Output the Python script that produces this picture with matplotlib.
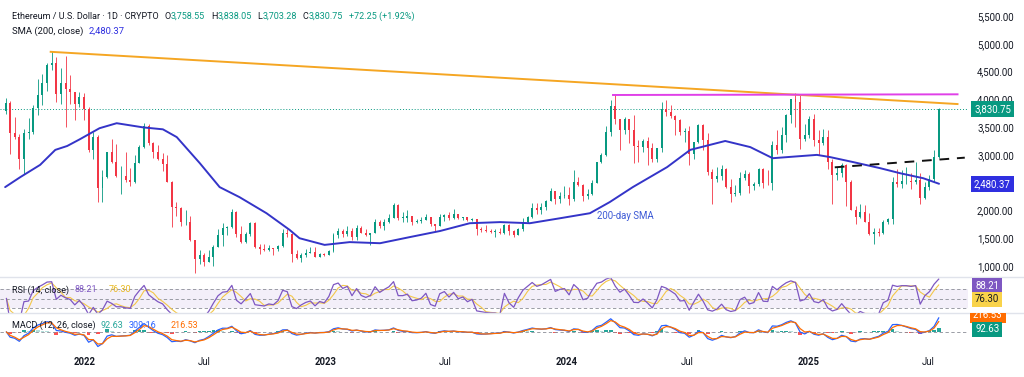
import numpy as np
import pandas as pd
import matplotlib
matplotlib.use("Agg")
import matplotlib.pyplot as plt
from matplotlib.transforms import blended_transform_factory, Bbox

# ---------------- data ----------------
first_open = 3790
first_period_start = "2021-09-02"   # partial first period (Thu-Sun)
weekly_start = "2021-09-06"         # weekly candles start (Mondays)

highs = [4030, 3970, 3680, 3370, 3470, 3670, 3890, 4370, 4460, 4660,
         4870, 4770, 4560, 4780, 4430, 4130, 4140, 4120, 3860, 3410,
         3360, 2720, 3060, 3280, 3190, 2800, 3050, 2770, 3000, 3180,
         3580, 3550, 3240, 3170, 3030, 3000, 2530, 2150, 2060, 2010,
         1900, 1460, 1280, 1230, 1280, 1380, 1660, 1780, 1720, 2030,
         1990, 1720, 1620, 1790, 1790, 1400, 1400, 1380, 1320, 1370,
         1660, 1670, 1600, 1290, 1230, 1310, 1350, 1350, 1240, 1230,
         1290, 1600, 1680, 1660, 1720, 1690, 1740, 1720, 1660, 1600,
         1840, 1830, 1840, 1940, 2140, 2120, 1980, 2010, 1900, 1850,
         1880, 1930, 1890, 1760, 1930, 1940, 1970, 2020, 1930, 1890,
         1870, 1870, 1850, 1700, 1740, 1660, 1660, 1680, 1750, 1750,
         1640, 1680, 1860, 1900, 2140, 2130, 2130, 2190, 2400, 2350,
         2340, 2440, 2420, 2720, 2600, 2470, 2390, 2540, 2880, 3030,
         3520, 3980, 4090, 3650, 3680, 3650, 3720, 3270, 3290, 3330,
         3220, 3130, 3950, 3980, 3890, 3720, 3650, 3480, 3520, 3240,
         3550, 3560, 3400, 2750, 2780, 2820, 2770, 2560, 2460, 2700,
         2720, 2700, 2520, 2770, 2770, 2720, 3250, 3450, 3500, 3730,
         4010, 4110, 4100, 3560, 3700, 3740, 3450, 3460, 3440, 2930,
         2790, 2850, 2830, 2550, 2080, 2110, 2100, 1960, 1690, 1690,
         1830, 1860, 2600, 2740, 2730, 2790, 2680, 2880, 2680, 2520,
         2640, 3080, 3840]

lows = [3730, 3010, 3280, 2740, 2650, 3280, 3380, 3720, 3900, 4150,
        4520, 3960, 3920, 3500, 3920, 3630, 3870, 3630, 3050, 2930,
        2160, 2160, 2580, 2860, 2600, 2300, 2520, 2440, 2500, 2870,
        3130, 3170, 2950, 2900, 2710, 2510, 1710, 1900, 1720, 1740,
        1450, 880, 1040, 1000, 1070, 1000, 1350, 1360, 1550, 1680,
        1530, 1420, 1420, 1540, 1330, 1220, 1270, 1270, 1190, 1270,
        1340, 1520, 1080, 1130, 1080, 1170, 1230, 1160, 1160, 1180,
        1190, 1260, 1510, 1520, 1540, 1460, 1460, 1590, 1540, 1370,
        1590, 1680, 1650, 1780, 1860, 1830, 1800, 1800, 1740, 1780,
        1780, 1830, 1720, 1630, 1720, 1810, 1820, 1840, 1850, 1830,
        1810, 1810, 1550, 1620, 1610, 1600, 1530, 1580, 1580, 1560,
        1520, 1550, 1630, 1780, 1870, 1940, 1930, 2010, 2170, 2120,
        2140, 2230, 2100, 2170, 2440, 2170, 2200, 2280, 2490, 2860,
        2980, 3340, 3560, 3080, 3370, 3210, 2850, 2870, 3060, 2820,
        2880, 2870, 3050, 3700, 3670, 3360, 3360, 3240, 2820, 2930,
        3220, 3090, 2630, 2110, 2520, 2540, 2400, 2150, 2260, 2270,
        2540, 2310, 2370, 2440, 2400, 2460, 2360, 3010, 3030, 3240,
        3570, 3510, 3100, 3250, 3300, 3160, 3000, 3180, 2750, 2120,
        2550, 2600, 2080, 2000, 1760, 1870, 1790, 1550, 1390, 1540,
        1570, 1760, 1750, 2420, 2400, 2480, 2380, 2480, 2110, 2210,
        2370, 2520, 2940]

closes = [3930, 3400, 3330, 2920, 3390, 3410, 3850, 4080, 4290, 4610,
          4650, 4090, 4290, 4190, 4130, 3920, 4040, 3830, 3090, 3330,
          2410, 2610, 3050, 2880, 2620, 2620, 2550, 2520, 2860, 3140,
          3520, 3210, 3060, 2920, 2830, 2520, 2060, 2040, 1790, 1800,
          1460, 1130, 1200, 1070, 1170, 1340, 1550, 1680, 1700, 1980,
          1580, 1430, 1580, 1770, 1340, 1310, 1280, 1320, 1300, 1360,
          1590, 1570, 1220, 1140, 1200, 1240, 1260, 1170, 1220, 1200,
          1270, 1550, 1630, 1570, 1630, 1520, 1690, 1590, 1560, 1590,
          1790, 1720, 1790, 1860, 2090, 1870, 1870, 1900, 1800, 1810,
          1830, 1890, 1750, 1720, 1880, 1920, 1860, 1930, 1860, 1880,
          1830, 1850, 1670, 1650, 1630, 1620, 1620, 1590, 1730, 1630,
          1560, 1660, 1790, 1890, 2050, 2010, 2060, 2170, 2350, 2200,
          2260, 2280, 2210, 2520, 2460, 2260, 2290, 2500, 2880, 2990,
          3420, 3880, 3640, 3450, 3640, 3450, 3160, 3150, 3250, 3120,
          2930, 3120, 3830, 3780, 3700, 3620, 3420, 3430, 3020, 3240,
          3530, 3270, 2690, 2560, 2620, 2750, 2430, 2300, 2320, 2580,
          2650, 2440, 2470, 2750, 2500, 2490, 3180, 3080, 3360, 3710,
          4000, 3960, 3280, 3350, 3640, 3270, 3210, 3320, 2870, 2630,
          2670, 2820, 2520, 2010, 1890, 1980, 1800, 1580, 1620, 1590,
          1790, 1840, 2510, 2480, 2530, 2530, 2520, 2550, 2230, 2430,
          2560, 2970, 3830]

sma_dates = ["2021-09-02", "2021-09-25", "2021-10-25", "2021-11-17", "2021-12-05",
             "2021-12-24", "2022-01-23", "2022-02-18", "2022-03-30", "2022-04-29",
             "2022-05-20", "2022-06-24", "2022-07-24", "2022-08-23", "2022-10-03",
             "2022-11-07", "2022-11-22", "2022-12-30", "2023-02-06", "2023-03-24",
             "2023-05-08", "2023-06-23", "2023-08-07", "2023-09-22", "2023-11-06",
             "2023-12-22", "2024-02-05", "2024-03-06", "2024-04-10", "2024-06-01",
             "2024-07-06", "2024-08-28", "2024-10-05", "2024-11-08", "2024-11-30",
             "2025-01-14", "2025-02-03", "2025-03-10", "2025-04-20", "2025-05-20",
             "2025-06-24", "2025-07-18"]
sma_values = [2420, 2600, 2820, 3090, 3160,
              3280, 3480, 3570, 3495, 3460,
              3320, 2850, 2420, 2240, 1950,
              1650, 1500, 1380, 1430, 1410,
              1520, 1630, 1770, 1790, 1770,
              1860, 1950, 2150, 2420, 2780,
              3090, 3250, 3140, 2940, 2960,
              3000, 2960, 2870, 2760, 2670,
              2580, 2480]

orange_dates = ["2021-11-10", "2025-08-15"]
orange_prices = [4855, 3915]
magenta_dates = ["2024-03-11", "2025-08-15"]
magenta_prices = [4078, 4090]
dashed_dates = ["2025-02-10", "2025-08-26"]
dashed_prices = [2776, 2950]

price_ticks = [1000, 1500, 2000, 3000, 3500, 4000, 4500, 5000, 5500]
time_tick_dates = ["2022-01-01", "2022-07-01", "2023-01-01", "2023-07-01",
                   "2024-01-01", "2024-07-01", "2025-01-01", "2025-07-01"]
time_tick_labels = ["2022", "Jul", "2023", "Jul", "2024", "Jul", "2025", "Jul"]

last_price = 3830.75
sma_last = 2480.37
rsi_last, rsi_ma_last = 88.21, 76.30
macd_hist_last, macd_last, signal_last = 92.63, 309.16, 216.53

assert len(highs) == len(lows) == len(closes) == 203

# ---------------- helpers ----------------
W, H = 1024, 377
REF = pd.Timestamp("2022-01-01")


def days(d):
    return (pd.Timestamp(d) - REF).days


FONT = ["Roboto", "DejaVu Sans"]
plt.rcParams["font.family"] = FONT

fig = plt.figure(figsize=(W / 100, H / 100), dpi=100)
fig.patch.set_facecolor("white")
renderer = fig.canvas.get_renderer()


def width_px(s, size, weight="normal"):
    t = fig.text(0, 0, s, fontsize=size, fontweight=weight)
    w = t.get_window_extent(renderer=renderer).width
    t.remove()
    return w


# font size so that "5,500.00" is ~37 px wide (as in the reference)
AX_FS = 7 * 37.0 / width_px("5,500.00", 7)

PLOT_R = 968


def ax_rect(y0, y1):
    return [0, 1 - y1 / H, PLOT_R / W, (y1 - y0) / H]


ax = fig.add_axes(ax_rect(0, 277))
ax_rsi = fig.add_axes(ax_rect(277, 313), sharex=ax)
ax_macd = fig.add_axes(ax_rect(313, 352), sharex=ax)

XL = (-85 / 0.66, (PLOT_R - 85) / 0.66)
for a in (ax, ax_rsi, ax_macd):
    for s in a.spines.values():
        s.set_visible(False)
    a.set_facecolor("none")
    a.tick_params(axis="x", which="both", bottom=False, labelbottom=False)
    a.set_xlim(*XL)

# ---------------- candles ----------------
UP, DN = "#089981", "#F23645"
opens = [first_open] + closes[:-1]
ws = pd.Timestamp(weekly_start)
xc = [days(first_period_start) + 2.0] + [days(ws + pd.Timedelta(weeks=i)) + 3.5
                                         for i in range(len(closes) - 1)]
xc = np.array(xc, dtype=float)
o = np.array(opens, float)
c = np.array(closes, float)
h = np.maximum.reduce([np.array(highs, float), o, c])
l = np.minimum.reduce([np.array(lows, float), o, c])
cols = np.where(c >= o, UP, DN)
ax.vlines(xc, l, h, colors=cols, lw=0.6, zorder=3)
body_h = np.maximum(np.abs(c - o), 8)
ax.bar(xc, body_h, bottom=np.minimum(o, c), width=3.0, color=cols, linewidth=0, zorder=3)

# SMA
ax.plot([days(d) for d in sma_dates], sma_values, color="#3434c8", lw=1.4, zorder=4,
        solid_capstyle="round", solid_joinstyle="round")
ax.text(days("2024-02-16"), 1900, "200-day SMA", color="#3d5ad6", fontsize=AX_FS,
        va="center", ha="left", zorder=5)

# trend lines
ax.plot([days(d) for d in orange_dates], orange_prices, color="#F5A623", lw=1.4, zorder=4)
ax.plot([days(d) for d in magenta_dates], magenta_prices, color="#E040E8", lw=1.4, zorder=4)
ax.plot([days(d) for d in dashed_dates], dashed_prices, color="#111111", lw=1.4,
        dashes=(5, 4), zorder=4)

ax.axhline(last_price, color="#089981", lw=0.7, ls=(0, (1, 2)), zorder=2)

ax.set_ylim(1000 - 11 / 0.05556, 1000 + 266 / 0.05556)
ax.yaxis.tick_right()
ax.set_yticks(price_ticks)
ax.set_yticklabels([f"{v:,.2f}" for v in price_ticks])
ax.tick_params(axis="y", length=0, pad=6.5, labelsize=AX_FS, labelcolor="#131722")

# ---------------- RSI ----------------
cs = pd.Series(closes, dtype=float)
d = cs.diff().fillna(0)
ag = d.clip(lower=0).ewm(alpha=0.22, adjust=False).mean()
al = (-d).clip(lower=0).ewm(alpha=0.22, adjust=False).mean()
rsi = 100 - 100 / (1 + ag / al.replace(0, np.nan))
rsi = rsi.fillna(50)
rsi_ma = rsi.rolling(3, min_periods=1).mean()

ax_rsi.axhspan(30, 70, color="#7E57C2", alpha=0.09, lw=0)
for lev in (70, 50, 30):
    ax_rsi.axhline(lev, color="#8a8d96", lw=0.6, dashes=(4, 3))
ax_rsi.plot(xc, rsi_ma, color="#F3C74A", lw=0.8)
ax_rsi.plot(xc, rsi, color="#7E57C2", lw=0.9)
ax_rsi.set_ylim(19.5, 95.3)
ax_rsi.set_yticks([])

# ---------------- MACD ----------------
fast = cs.ewm(alpha=0.56, adjust=False).mean()
slow = cs.ewm(alpha=0.359, adjust=False).mean()
macd = fast - slow
sig = macd.ewm(alpha=0.636, adjust=False).mean()
hist = macd - sig
prev = hist.shift(1).fillna(0)
hcol = np.where(hist >= 0, np.where(hist >= prev, "#26A69A", "#B2DFDB"),
                np.where(hist < prev, "#FF5252", "#FFCDD2"))
ax_macd.bar(xc, hist, width=5.5, color=hcol, linewidth=0)
ax_macd.axhline(0, color="#8a8d96", lw=0.6, dashes=(4, 3))
ax_macd.plot(xc, macd, color="#2962FF", lw=0.9)
ax_macd.plot(xc, sig, color="#FF6D00", lw=0.9)
ax_macd.set_ylim(-412, 391)
ax_macd.set_yticks([])

# time axis labels ("2022" ~22 px wide, bold)
TFS = 7 * 22.0 / width_px("2022", 7, "bold")
tt = blended_transform_factory(ax_macd.transData, fig.transFigure)
for dstr, lab in zip(time_tick_dates, time_tick_labels):
    ax_macd.text(days(dstr), 1 - 362 / H, lab, transform=tt, ha="center", va="center",
                 fontsize=TFS, color="#131722",
                 fontweight="bold" if lab.isdigit() else "normal")

# separators
for yp in (277, 313):
    fig.add_artist(plt.Line2D([0, 1], [1 - yp / H] * 2, color="#e0e3eb", lw=1.0,
                              transform=fig.transFigure))

# ---------------- right-side value boxes ----------------
bt = blended_transform_factory(fig.transFigure, ax.transData)
BOX = dict(boxstyle="square,pad=0.3", ec="none")


def vbox(axis, tr, y, text, fc, tc="white", x_px=974):
    return axis.text(x_px / W, y, text, transform=tr, ha="left", va="center",
                     fontsize=AX_FS, color=tc, clip_on=False, zorder=10,
                     bbox=dict(BOX, fc=fc))


vbox(ax, bt, last_price, f"{last_price:,.2f}", "#089981")
vbox(ax, bt, sma_last, f"{sma_last:,.2f}", "#2f2fe0")

fig.text(975 / W, 1 - 286 / H, f"{rsi_last:.2f}", ha="left", va="center", fontsize=AX_FS,
         color="white", bbox=dict(BOX, fc="#7E57C2"))
fig.text(975 / W, 1 - 299.5 / H, f"{rsi_ma_last:.2f}", ha="left", va="center",
         fontsize=AX_FS, color="#131722", bbox=dict(BOX, fc="#F9D34A"))
t_sig = fig.text(973 / W, 1 - 315.5 / H, f"{signal_last:.2f}", ha="left", va="center",
                 fontsize=AX_FS, color="white", bbox=dict(BOX, fc="#FF6D00"))
t_sig.set_clip_box(Bbox.from_extents(0, 0, W, H - 313))
t_sig.set_clip_on(True)
fig.text(975 / W, 1 - 329.5 / H, f"{macd_hist_last:.2f}", ha="left", va="center",
         fontsize=AX_FS, color="white", bbox=dict(BOX, fc="#089981"))

# ---------------- legend texts (fitted to reference widths) ----------------
DARK = "#131722"
TEAL = "#089981"


def pieces(x_px, x_end, y_px, items):
    gaps = sum(g for _, _, g in items)
    raw = sum(width_px(t, 7) for t, _, _ in items)
    size = 7 * (x_end - x_px - gaps) / raw
    x = x_px
    for txt, col, gap in items:
        t = fig.text(x / W, 1 - y_px / H, txt, color=col, fontsize=size, ha="left",
                     va="center", zorder=10)
        x += t.get_window_extent(renderer=renderer).width + gap


pieces(12, 418, 16.5, [("Ethereum / U.S. Dollar · 1D · CRYPTO", DARK, 6),
                       ("O", DARK, 0), ("3,758.55", TEAL, 6),
                       ("H", DARK, 0), ("3,838.05", TEAL, 6),
                       ("L", DARK, 0), ("3,703.28", TEAL, 6),
                       ("C", DARK, 0), ("3,830.75", TEAL, 6),
                       ("+72.25 (+1.92%)", TEAL, 0)])
pieces(12, 126, 31, [("SMA (200, close)", DARK, 5), ("2,480.37", "#2f2fe0", 0)])
pieces(12, 132, 290, [("RSI (14, close)", DARK, 5), ("88.21", "#7E57C2", 12),
                      ("76.30", "#E8B923", 0)])
pieces(12, 200, 325, [("MACD (12, 26, close)", DARK, 5), ("92.63", "#26A69A", 5),
                      ("309.16", "#2962FF", 14), ("216.53", "#FF6D00", 0)])

fig.savefig("out.png", dpi=100, facecolor="white")
